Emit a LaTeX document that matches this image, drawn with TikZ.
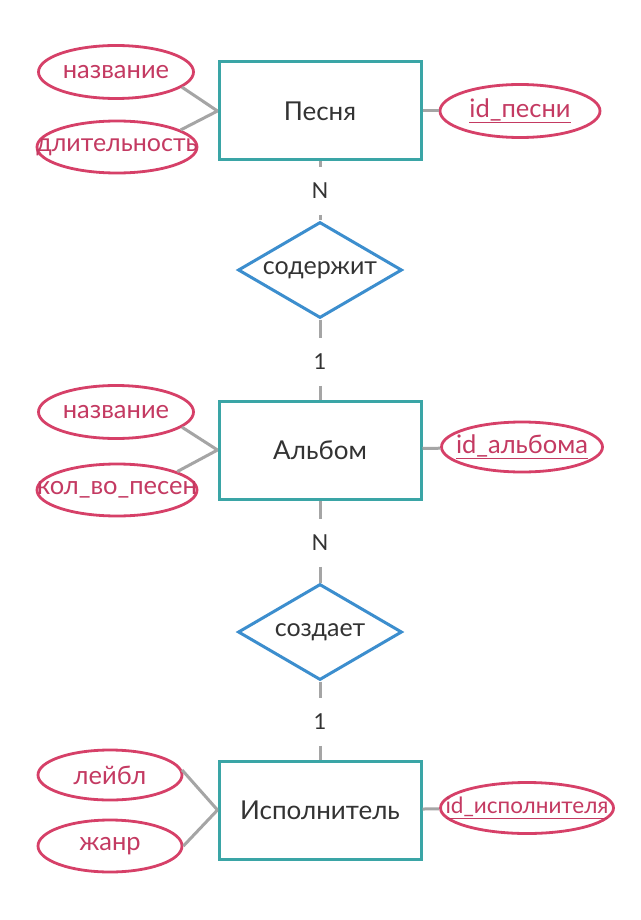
\documentclass[tikz,border=0pt]{standalone}
\usepackage{fontspec}
\setmainfont{Lato}
\usetikzlibrary{shapes.geometric}
\definecolor{entcol}{RGB}{58,165,166}
\definecolor{relcol}{RGB}{60,142,206}
\definecolor{attcol}{RGB}{214,64,104}
\definecolor{atttxt}{RGB}{196,58,98}
\definecolor{linkcol}{RGB}{165,165,165}
\definecolor{txtcol}{RGB}{51,51,51}

\begin{document}
\begin{tikzpicture}[x=1pt, y=-1pt,
	entity/.style={draw=entcol, line width=3pt, fill=white, minimum width=202pt, minimum height=98pt, text=txtcol, font=\fontsize{26}{31}\selectfont},
	attr/.style={ellipse, draw=attcol, line width=2.8pt, fill=white, minimum width=155pt, minimum height=53pt, inner sep=0pt},
	atext/.style={text=atttxt, font=\fontsize{25.5}{30}\selectfont},
	rel/.style={diamond, draw=relcol, line width=3pt, fill=white, minimum width=164pt, minimum height=96pt, inner sep=0pt},
	rtext/.style={text=txtcol, font=\fontsize{25}{30}\selectfont},
	card/.style={text=txtcol, font=\fontsize{22}{26}\selectfont, inner sep=0pt, outer ysep=16pt},
	link/.style={draw=linkcol, line width=3pt}]
	\fill[white] (0,0) rectangle (640,920);
	\useasboundingbox (0,0) rectangle (640,920);

	% Песня
	\node[entity] (pesnya) at (320,111) {Песня};
	\node[attr, label={[atext]center:название}] (nazv1) at (116,72) {};
	\node[attr, minimum width=160pt, minimum height=52pt, label={[atext, font=\fontsize{25}{30}\selectfont]center:длительность}] (dlit) at (117,147) {};
	\node[attr, minimum width=160pt, label={[atext]center:\underline{id\_песни}}] (idpesni) at (520,111) {};

	\node[card] (n1) at (320,191) {N};
	\node[rel, label={[rtext]center:содержит}] (soderzhit) at (320,270) {};
	\node[card] (one1) at (320,362) {1};

	% Альбом
	\node[entity] (albom) at (320,450) {Альбом};
	\node[attr, label={[atext]center:название}] (nazv2) at (116,412) {};
	\node[attr, minimum width=160pt, minimum height=52pt, label={[atext]center:кол\_во\_песен}] (kolvo) at (117,490) {};
	\node[attr, minimum width=161pt, minimum height=50pt, label={[atext]center:\underline{id\_альбома}}] (idalbom) at (522,447) {};

	\node[card] (n2) at (320,543) {N};
	\node[rel, label={[rtext]center:создает}] (sozdaet) at (320,632) {};
	\node[card] (one2) at (320,722) {1};

	% Исполнитель
	\node[entity] (ispoln) at (320,810) {Исполнитель};
	\node[attr, minimum width=144pt, minimum height=50pt, label={[atext]center:лейбл}] (leibl) at (110,775) {};
	\node[attr, minimum width=144pt, minimum height=52pt, label={[atext]center:жанр}] (zhanr) at (110,846) {};
	\node[attr, minimum width=173pt, minimum height=51pt, label={[atext, font=\fontsize{22.5}{27}\selectfont]center:\underline{id\_исполнителя}}] (idisp) at (527,808) {};

	% связи
	\draw[link] (nazv1.-13) -- (pesnya.west);
	\draw[link] (dlit.15) -- (pesnya.west);
	\draw[link] (pesnya) -- (idpesni);
	\draw[link] (pesnya) -- (n1);
	\draw[link] (n1) -- (soderzhit);
	\draw[link] (soderzhit) -- (one1);
	\draw[link] (one1) -- (albom);

	\draw[link] (nazv2.-13) -- (albom.west);
	\draw[link] (kolvo.17) -- (albom.west);
	\draw[link] (albom) -- (idalbom);
	\draw[link] (albom) -- (n2);
	\draw[link] (n2) -- (sozdaet);
	\draw[link] (sozdaet) -- (one2);
	\draw[link] (one2) -- (ispoln);

	\draw[link] (leibl.4) -- (ispoln.west);
	\draw[link] (zhanr.east) -- (ispoln.west);
	\draw[link] (ispoln) -- (idisp);
\end{tikzpicture}
\end{document}
